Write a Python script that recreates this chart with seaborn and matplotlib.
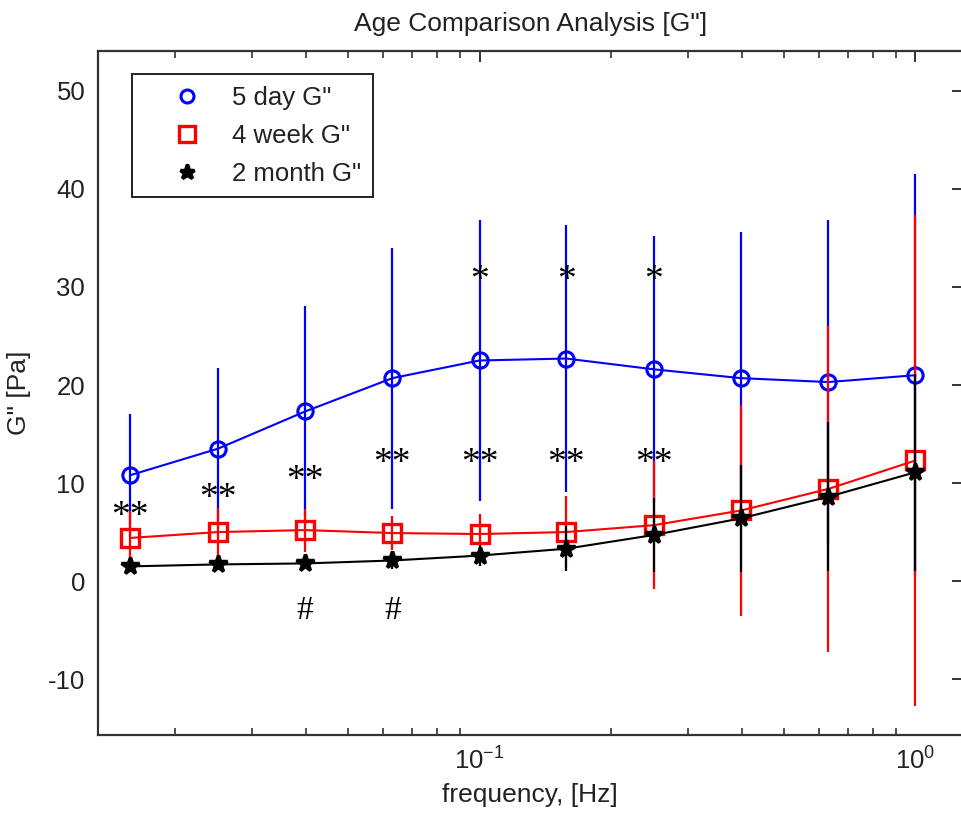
import numpy as np
import pandas as pd
import matplotlib
matplotlib.use("Agg")
import matplotlib.pyplot as plt
from matplotlib.lines import Line2D
from matplotlib.ticker import LogLocator, NullFormatter, FixedLocator
import seaborn as sns

# ---------------- data ----------------
freq = [0.0158, 0.0251, 0.0398, 0.0631, 0.1, 0.158, 0.251, 0.398, 0.631, 1.0]
day5 = [10.8, 13.5, 17.3, 20.7, 22.5, 22.7, 21.6, 20.7, 20.3, 21.0]
day5_sd = [6.2, 8.2, 10.8, 13.3, 14.3, 13.6, 13.6, 14.9, 16.5, 20.5]
week4 = [4.4, 5.0, 5.2, 4.9, 4.8, 5.0, 5.7, 7.2, 9.4, 12.3]
week4_sd = [2.7, 2.5, 2.2, 1.7, 2.0, 3.7, 6.5, 10.8, 16.6, 25.0]
month2 = [1.5, 1.7, 1.8, 2.1, 2.6, 3.3, 4.7, 6.4, 8.6, 11.1]
month2_sd = [0.5, 0.6, 0.5, 0.9, 1.1, 2.3, 3.8, 5.45, 7.6, 10.05]
series_labels = ['5 day G"', '4 week G"', '2 month G"']

# significance marks: (text, index of frequency, y value)
sig_text = ["**", "**", "**", "**", "**", "**", "**", "*", "*", "*", "#", "#"]
sig_idx = [0, 1, 2, 3, 4, 5, 6, 4, 5, 6, 2, 3]
sig_y = [6.6, 8.4, 10.2, 12.0, 12.0, 12.0, 12.0, 30.6, 30.6, 30.6, -3.0, -3.0]

yticks = [-10, 0, 10, 20, 30, 40, 50]

# ---------------- style ----------------
sns.set_theme(style="white")
plt.rcParams["font.family"] = ["Liberation Sans", "DejaVu Sans"]
plt.rcParams["mathtext.default"] = "regular"
plt.rcParams["axes.unicode_minus"] = False

W, H = 962, 818
fig = plt.figure(figsize=(W / 100, H / 100), dpi=100)
ax = fig.add_axes([97.7 / W, (H - 735) / H, (963 - 97.7) / W, (735 - 50.7) / H])

colors = ["#0000ff", "#ff0000", "#000000"]
means = [day5, week4, month2]
sds = [day5_sd, week4_sd, month2_sd]
markers = ["o", "s", "*"]
msizes = [11, 13, 13]
mews = [2.2, 2.4, 2.5]
mfcs = ["none", "none", "black"]

for i in range(3):
    m = np.array(means[i])
    s = np.array(sds[i])
    z = 2 + i * 2
    ax.vlines(freq, m - s, m + s, colors=colors[i], lw=1.6, zorder=z)
    df = pd.DataFrame({"f": freq, "v": means[i]})
    sns.lineplot(data=df, x="f", y="v", ax=ax, color=colors[i], lw=1.5,
                 marker=markers[i], markersize=msizes[i], markeredgewidth=mews[i],
                 markerfacecolor=mfcs[i], markeredgecolor=colors[i],
                 sort=False, legend=False, errorbar=None, zorder=z + 1)

for t, k, yv in zip(sig_text, sig_idx, sig_y):
    fs = 24 if t == "#" else 27
    ax.text(freq[k], yv, t, ha="center", va="center", fontsize=fs,
            family=["Liberation Serif", "DejaVu Serif"], color="black", zorder=10)

ax.set_xscale("log")
ax.set_xlim(0.013308, 1.2853)
ax.set_ylim(-15.7, 54.1)
ax.yaxis.set_major_locator(FixedLocator(yticks))
ax.xaxis.set_major_locator(LogLocator(base=10, numticks=10))
ax.xaxis.set_minor_locator(LogLocator(base=10, subs=np.arange(2, 10), numticks=20))
ax.xaxis.set_minor_formatter(NullFormatter())

ax.tick_params(axis="both", which="major", direction="in", length=8, width=1.4,
               labelsize=18.5, color="#333333", labelcolor="#222222",
               top=True, right=True, pad=9)
ax.tick_params(axis="x", which="minor", direction="in", length=5, width=1.2,
               color="#333333", top=True, bottom=True)
for sp in ax.spines.values():
    sp.set_color("#333333")
    sp.set_linewidth(1.6)

ax.set_xlabel("frequency, [Hz]", fontsize=19, color="#222222", labelpad=6)
ax.set_ylabel('G" [Pa]', fontsize=19, color="#222222", labelpad=12)
ax.set_title('Age Comparison Analysis [G"]', fontsize=19, color="#222222", pad=14)
ax.grid(False)

handles = [Line2D([], [], ls="none", marker=markers[i], markersize=msizes[i] * 0.85,
                  markeredgewidth=mews[i], markerfacecolor=mfcs[i],
                  markeredgecolor=colors[i]) for i in range(3)]
leg = ax.legend(handles, series_labels, loc="upper left",
                bbox_to_anchor=((132 - 97.7) / 865.3, (735 - 74) / 684.3),
                fontsize=18.5, frameon=True, fancybox=False, framealpha=1,
                edgecolor="#222222", handlelength=3.4, handletextpad=0.05,
                borderpad=0.45, labelspacing=0.55, borderaxespad=0)
leg.get_frame().set_linewidth(1.4)
for txt in leg.get_texts():
    txt.set_color("#222222")

fig.savefig("out.png", dpi=100)
